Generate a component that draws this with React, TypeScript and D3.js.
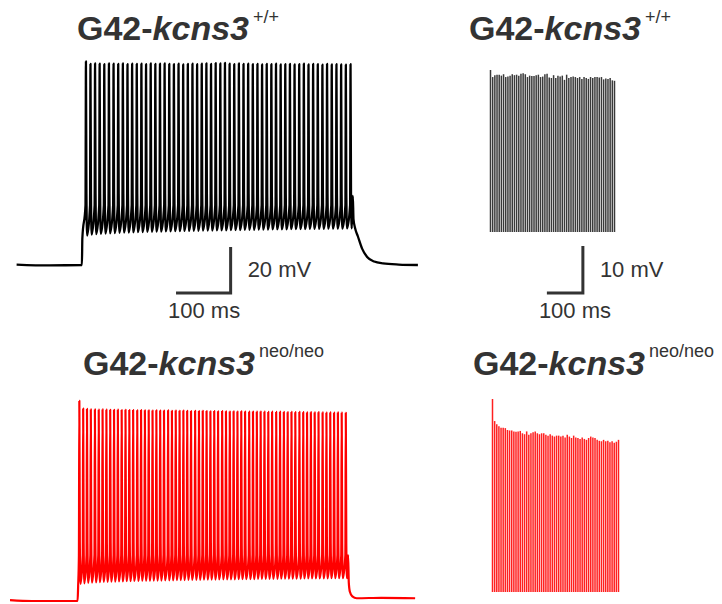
import { useEffect, useRef } from "react";
import * as d3 from "d3";

// ---- traces: spike times (ms), spike peaks (mV), AHP troughs (mV) ----

const wtTimes = [
  127, 135.3, 143.7, 152.1, 160.6, 169.1, 177.6, 186.1, 194.6, 203.1,
  211.6, 220.1, 228.6, 237.1, 245.6, 254.1, 262.6, 271.1, 279.6, 288.1,
  296.6, 305.1, 313.6, 322.1, 330.6, 339.1, 347.6, 356.1, 364.6, 373.1,
  381.6, 390.1, 398.6, 407.1, 415.6, 424.1, 432.6, 441.1, 449.6, 458.1,
  466.6, 475.1, 483.6, 492.1, 500.6, 509.1, 517.6, 526.1, 534.6, 543.1,
  551.6, 560.1, 568.6, 577.2, 585.8, 594.4, 603.0, 611.6,
];
const wtPeaks = [
  18.5, 17.4, 17.6, 17.5, 17.3, 17.6, 17.5, 17.4, 17.6, 17.3,
  17.5, 17.4, 17.5, 17.3, 17.6, 17.4, 17.5, 17.6, 17.4, 17.3,
  17.5, 17.2, 17.4, 17.5, 17.3, 17.5, 17.7, 17.4, 17.8, 17.6,
  17.9, 17.5, 17.3, 17.6, 17.4, 17.5, 17.3, 17.4, 17.2, 17.4,
  17.3, 17.5, 17.2, 17.3, 17.4, 17.2, 17.3, 17.5, 17.2, 17.4,
  17.3, 17.1, 17.4, 17.2, 17.3, 17.2, 17.1, 17.3,
];
const wtTroughs = [
  -57.2, -56.8, -56.6, -56.5, -56.3, -56.2, -56.1, -56.0, -55.9, -55.9,
  -55.8, -55.7, -55.7, -55.6, -55.6, -55.5, -55.5, -55.4, -55.4, -55.3,
  -55.3, -55.2, -55.2, -55.1, -55.1, -55.0, -55.0, -55.0, -54.9, -54.9,
  -54.9, -54.8, -54.8, -54.8, -54.7, -54.7, -54.7, -54.6, -54.6, -54.6,
  -54.5, -54.5, -54.5, -54.5, -54.4, -54.4, -54.4, -54.4, -54.3, -54.3,
  -54.3, -54.3, -54.2, -54.2, -54.2, -54.2, -54.1, -54.1,
];
const wtBefore = [[0, -69.8], [60, -70.2], [119.6, -70], [120.4, -58.5]];
const wtAfter = [
  [615.8, -40], [617, -50], [620, -54], [625, -57.5], [633, -63],
  [642, -66.5], [655, -68.5], [671, -69.3], [700, -69.8], [735, -70],
];

const neoTimes = [
  127, 134, 141, 148, 155.5, 162.5, 169.5, 176.5, 183.5, 190.5,
  197.5, 204.5, 211.5, 218.5, 225.5, 233, 240, 247, 254, 261,
  268, 275, 282, 289.5, 296.5, 303.5, 310.5, 317.5, 324.5, 331.5,
  339, 346, 353, 360, 367, 374, 381, 388.5, 395.5, 402.5,
  409.5, 416.5, 423.5, 430.5, 438, 445, 452, 459, 466, 473,
  480, 487.5, 494.5, 501.5, 508.5, 515.5, 522.5, 530, 537, 544,
  551, 558, 565, 572.5, 579.5, 586.5, 593.5, 600.5, 607.5, 615,
];
const neoPeaks = [
  17.0, 13.7, 13.5, 13.3, 13.3, 13.2, 13.3, 13.2, 13.1, 13.1,
  13.2, 13.0, 13.1, 13.0, 13.0, 12.9, 13.0, 12.9, 12.9, 12.8,
  12.9, 12.8, 12.8, 12.9, 12.7, 12.8, 12.7, 12.8, 12.7, 12.6,
  12.7, 12.6, 12.7, 12.6, 12.5, 12.6, 12.5, 12.6, 12.5, 12.4,
  12.5, 12.4, 12.5, 12.4, 12.3, 12.4, 12.3, 12.4, 12.3, 12.2,
  12.3, 12.2, 12.3, 12.2, 12.1, 12.2, 12.1, 12.2, 12.1, 12.0,
  12.1, 12.0, 12.1, 12.0, 11.9, 12.0, 11.9, 12.0, 11.9, 11.8,
];
const neoTroughs = [
  -62.6, -62.3, -62.1, -62.0, -61.9, -61.8, -61.7, -61.7, -61.6, -61.6,
  -61.5, -61.5, -61.4, -61.4, -61.3, -61.3, -61.2, -61.2, -61.2, -61.1,
  -61.1, -61.1, -61.0, -61.0, -61.0, -60.9, -60.9, -60.9, -60.8, -60.8,
  -60.8, -60.8, -60.7, -60.7, -60.7, -60.7, -60.6, -60.6, -60.6, -60.6,
  -60.6, -60.5, -60.5, -60.5, -60.5, -60.5, -60.4, -60.4, -60.4, -60.4,
  -60.4, -60.4, -60.3, -60.3, -60.3, -60.3, -60.3, -60.3, -60.2, -60.2,
  -60.2, -60.2, -60.2, -60.2, -60.2, -60.1, -60.1, -60.1, -60.1, -60.1,
];
const neoBefore = [[0, -69.6], [40, -70], [123.8, -70], [124.8, -63.5]];
const neoAfter = [
  [619.2, -50], [620.5, -62], [622.5, -66], [627, -68],
  [635, -68.8], [680, -68.6], [742, -68.8],
];

// ---- right panels: spike peak amplitudes (mV) ----
const wtRightPeaks = [
  18.0, 16.5, 16.9, 17.0, 17.0, 16.8, 17.1, 16.5, 16.6, 16.8,
  17.1, 16.9, 17.0, 16.8, 17.2, 17.3, 17.1, 16.5, 16.8, 16.7,
  16.7, 16.9, 17.0, 16.5, 16.6, 17.1, 17.2, 16.4, 16.3, 16.9,
  16.3, 16.8, 16.6, 16.8, 15.9, 17.0, 16.3, 16.5, 16.6, 16.5,
  16.3, 16.5, 16.1, 16.5, 16.3, 16.1, 16.5, 16.3, 16.5, 16.5,
  16.4, 16.5, 16.0, 16.2, 16.1, 16.3, 15.8, 15.7,
];
const neoRightPeaks = [
  18.0, 13.3, 12.6, 12.2, 11.9, 11.9, 11.8, 11.4, 11.3, 11.3,
  11.1, 11.0, 11.1, 11.2, 10.7, 10.5, 11.1, 10.4, 10.7, 10.9,
  11.1, 10.7, 10.5, 10.7, 10.7, 10.4, 10.2, 10.5, 10.2, 10.0,
  10.2, 10.2, 10.0, 10.2, 9.8, 10.4, 10.0, 9.7, 10.2, 9.8,
  9.7, 9.5, 9.8, 9.5, 9.3, 9.7, 10.0, 9.8, 9.7, 9.3,
  9.1, 9.0, 9.3, 9.0, 9.1, 8.8, 9.0, 8.7, 8.9, 9.3,
];

const titleColor = "#333";
const font = "'Liberation Sans', Arial, sans-serif";

// vertices of the whole recording: baseline, spikes, decay
function buildTrace(before, times, peaks, troughs, thr, shoulder, after) {
  const pts = before.slice();
  times.forEach((t, i) => {
    pts.push([t - 0.8, thr]);
    pts.push([t, peaks[i]]);
    pts.push([t + 0.9, shoulder]);
    pts.push([t + 2.2, troughs[i]]);
  });
  return pts.concat(after);
}

export default function App() {
  const svgRef = useRef(null);

  useEffect(() => {
    const svg = d3.select(svgRef.current);
    svg.selectAll("*").remove();

    const addTitle = (x, y, sup, supDy) => {
      const t = svg.append("text")
        .attr("x", x).attr("y", y)
        .attr("font-family", font)
        .attr("fill", titleColor);
      t.append("tspan").attr("font-size", 34).attr("font-weight", "bold").text("G42-");
      t.append("tspan").attr("font-size", 34).attr("font-weight", "bold").attr("font-style", "italic").text("kcns3");
      t.append("tspan").attr("font-size", 18).attr("dx", 4).attr("dy", supDy).text(sup);
    };

    addTitle(77, 40, "+/+", -17);
    addTitle(469, 40, "+/+", -17);
    addTitle(83, 375, "neo/neo", -18);
    addTitle(473, 375, "neo/neo", -18);

    const line = d3.line().curve(d3.curveMonotoneX);

    // top-left: wild-type trace
    const xWt = d3.scaleLinear().domain([0, 735]).range([16.6, 16.6 + 735 * 0.546]);
    const yWt = d3.scaleLinear().domain([-70, 18]).range([265, 265 - 88 * 2.3]);
    const wtPts = buildTrace(wtBefore, wtTimes, wtPeaks, wtTroughs, -44, -39, wtAfter);
    svg.append("path")
      .attr("d", line.x(d => xWt(d[0])).y(d => yWt(d[1]))(wtPts))
      .attr("fill", "none")
      .attr("stroke", "#000")
      .attr("stroke-width", 2.3)
      .attr("stroke-linejoin", "round");

    // bottom-left: neo/neo trace
    const xNeo = d3.scaleLinear().domain([0, 742]).range([10, 10 + 742 * 0.546]);
    const yNeo = d3.scaleLinear().domain([-70, 17]).range([601, 601 - 87 * 2.3]);
    const neoPts = buildTrace(neoBefore, neoTimes, neoPeaks, neoTroughs, -50, -45, neoAfter);
    svg.append("path")
      .attr("d", line.x(d => xNeo(d[0])).y(d => yNeo(d[1]))(neoPts))
      .attr("fill", "none")
      .attr("stroke", "#ff0000")
      .attr("stroke-width", 2.2)
      .attr("stroke-linejoin", "round");

    // right panels: spike peaks as vertical bars
    const drawBars = (peaks, range, yDomain, yRange, color) => {
      const x = d3.scalePoint().domain(d3.range(peaks.length)).range(range);
      const y = d3.scaleLinear().domain(yDomain).range(yRange);
      svg.append("g")
        .selectAll("line")
        .data(peaks)
        .enter()
        .append("line")
        .attr("x1", (d, i) => x(i))
        .attr("x2", (d, i) => x(i))
        .attr("y1", y(yDomain[0]))
        .attr("y2", d => y(d))
        .attr("stroke", color)
        .attr("stroke-width", 1.5);
      return y;
    };
    const yWtR = drawBars(wtRightPeaks, [490.5, 614.5], [-16.5, 18], [232, 70], "#3a3a3a");
    drawBars(neoRightPeaks, [492.5, 618.5], [-23.1, 18], [592, 399], "#ff2020");

    // scale bars
    const scaleBar = (x0, x1, yLow, yHigh, vLabel, hLabel) => {
      svg.append("path")
        .attr("d", `M${x0},${yLow}H${x1}V${yHigh}`)
        .attr("fill", "none")
        .attr("stroke", titleColor)
        .attr("stroke-width", 3);
      svg.append("text")
        .attr("x", x1 + 17).attr("y", yLow - 16)
        .attr("font-family", font).attr("font-size", 22).attr("fill", titleColor)
        .text(vLabel);
      svg.append("text")
        .attr("x", x0 - 8).attr("y", yLow + 25)
        .attr("font-family", font).attr("font-size", 22).attr("fill", titleColor)
        .text(hLabel);
    };
    scaleBar(xWt(292), xWt(392), yWt(-82.2), yWt(-62.2), "20 mV", "100 ms");

    const xWtR = d3.scaleLinear().domain([0, 350]).range([490, 616]);
    scaleBar(xWtR(158), xWtR(258), yWtR(-29.5), yWtR(-19.5), "10 mV", "100 ms");
  }, []);

  return (
    <svg
      ref={svgRef}
      width={722}
      height={604}
      style={{ position: "absolute", left: 0, top: 0, background: "#fff" }}
    />
  );
}
